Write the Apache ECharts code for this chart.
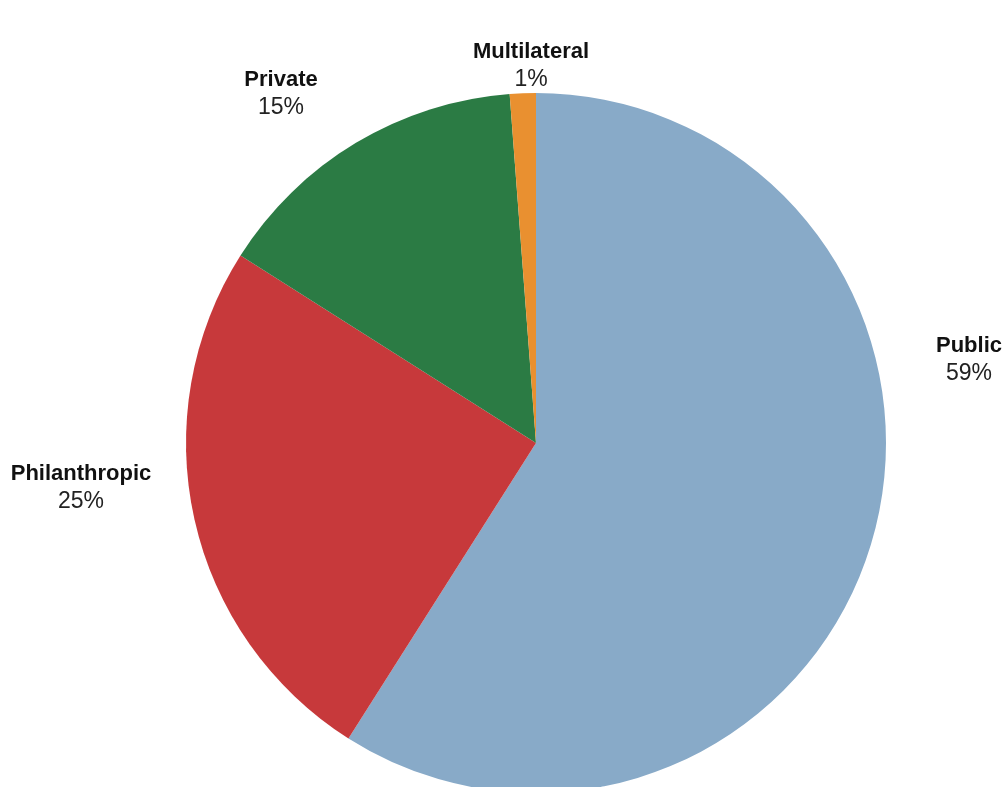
<!DOCTYPE html>
<html>
<head>
<meta charset="utf-8">
<script src="https://cdn.jsdelivr.net/npm/echarts@6/dist/echarts.min.js"></script>
<style>html,body{margin:0;padding:0;background:#fff}#c{width:1005px;height:787px}</style>
</head>
<body>
<div id="c"></div>
<script>
var categories = ['Public', 'Philanthropic', 'Private', 'Multilateral'];
var values = [59.0, 25.0, 14.8, 1.2];
var colors = ['#88aac8', '#c7393b', '#2b7b44', '#e99030'];
var labelPos = [[969, 360], [81, 488], [281, 94], [531, 66]];

var chart = echarts.init(document.getElementById('c'), null, {renderer: 'canvas'});
chart.setOption({
  animation: false,
  series: [{
    type: 'pie',
    center: [536, 443],
    radius: [0, 350],
    startAngle: 90,
    clockwise: true,
    avoidLabelOverlap: false,
    data: categories.map(function (n, i) {
      return {name: n, value: values[i], itemStyle: {color: colors[i]}};
    }),
    label: {
      show: true,
      formatter: function (p) { return '{b|' + p.name + '}\n{v|' + Math.round(p.percent) + '%}'; },
      rich: {
        b: {fontFamily: 'Liberation Sans', fontWeight: 'bold', fontSize: 22, color: '#111', lineHeight: 28, align: 'center'},
        v: {fontFamily: 'Liberation Sans', fontSize: 23, color: '#222', lineHeight: 28, align: 'center'}
      }
    },
    labelLine: {show: false},
    labelLayout: function (p) {
      var pos = labelPos[p.dataIndex];
      return {x: pos[0], y: pos[1], align: 'center', verticalAlign: 'middle'};
    }
  }]
});
</script>
</body>
</html>
